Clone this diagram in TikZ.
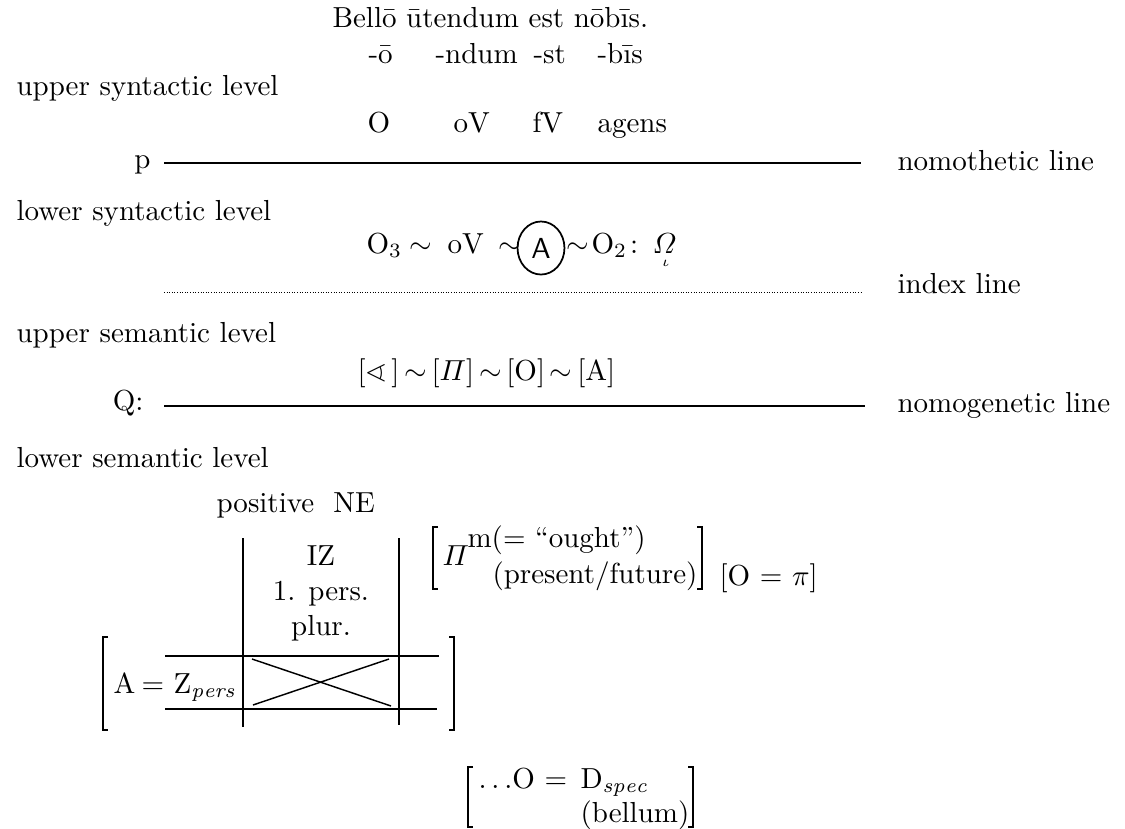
\documentclass[tikz,border=0pt]{standalone}
\usepackage{fontspec}
\usepackage{amsmath,amssymb}
\usetikzlibrary{shapes.geometric,positioning}
\tikzset{
  %% Texte
  txt/.style={inner sep=0pt,anchor=base west,font=\fontsize{10pt}{12pt}\selectfont},
  ctxt/.style={txt,anchor=base},
  rtxt/.style={txt,anchor=base east},
  %% Kreis um A
  circA/.style={ellipse,draw,line width=0.6pt,inner sep=0pt,
                minimum width=16.2pt,minimum height=18.3pt,
                font=\sffamily\fontsize{10pt}{12pt}\selectfont},
  %% Linien
  mainline/.style={line width=0.75pt},
  idxline/.style={line width=0.35pt,dash pattern=on 0.35pt off 0.55pt},
  tabline/.style={line width=0.5pt},
  brk/.style={line width=0.45pt},
}

\begin{document}
\begin{tikzpicture}[x=0.345pt,y=-0.345pt]
    \useasboundingbox (0,0) rectangle (1125,829);

    %% Satz und Endungen
    \node[txt] (sent) at (332,27) {Bellō ūtendum est nōbīs.};
    \node[txt] (endO)   at (368,63) {-ō};
    \node[txt] (endND)  at (435,63) {-ndum};
    \node[txt] (endST)  at (533,63) {-st};
    \node[txt] (endBIS) at (597,63) {-bīs};

    %% obere syntaktische Ebene
    \node[txt] (usl) at (16,95) {upper syntactic level};
    \node[txt] (synO)  at (367,132) {O};
    \node[txt] (synOV) at (453,132) {oV};
    \node[txt] (synFV) at (532,132) {fV};
    \node[txt] (synAG) at (597,132) {agens};

    %% nomothetische Linie
    \node[rtxt] (p) at (151,168) {p};
    \coordinate (nthL) at (164,163);
    \coordinate (nthR) at (861,163);
    \draw[mainline] (nthL) -- (nthR);
    \node[txt] (nth) at (897,170) {nomothetic line};

    %% untere syntaktische Ebene
    \node[txt] (lsl) at (16,220) {lower syntactic level};
    \node[txt] (fO3)  at (366,253) {O$_3$};
    \node[txt] (fS1)  at (409,253) {$\sim$};
    \node[txt] (fOV)  at (447,253) {oV};
    \node[txt] (fS2)  at (498,253) {$\sim$};
    \node[circA] (circ) at (541,248) {A};
    \node[txt] (fS3)  at (566,253) {$\sim$};
    \node[txt] (fO2)  at (591,253) {O$_2$\kern1pt:};
    \node[txt] (fOm)  at (652,253) {$\varOmega\mkern-9mu\lower1.05ex\hbox{$\scriptscriptstyle\iota$}$};

    %% Indexlinie
    \coordinate (idxL) at (164,292);
    \coordinate (idxR) at (861,292);
    \draw[idxline] (idxL) -- (idxR);
    \node[txt] (idx) at (897,293) {index line};

    %% obere semantische Ebene
    \node[txt] (usm) at (16,342) {upper semantic level};
    \node[txt] (semF) at (357,380)
      {[$\sphericalangle$\,]$\,\sim\,$[$\varPi$]$\,\sim\,$[O]$\,\sim\,$[A]};

    %% nomogenetische Linie
    \node[rtxt] (Q) at (144,410) {Q:};
    \coordinate (ngnL) at (164,406);
    \coordinate (ngnR) at (865,406);
    \draw[mainline] (ngnL) -- (ngnR);
    \node[txt] (ngn) at (897,412) {nomogenetic line};

    %% untere semantische Ebene
    \node[txt] (lsm) at (16,467) {lower semantic level};
    \node[txt] (posNE) at (216,512) {positive\ \ NE};

    %% Tabelle IZ
    \coordinate (vL1) at (243,538);  \coordinate (vL2) at (243,727);
    \coordinate (vR1) at (399,538);  \coordinate (vR2) at (399,725);
    \coordinate (hT1) at (165,656);  \coordinate (hT2) at (439,656);
    \coordinate (hB1) at (165,709);  \coordinate (hB2) at (437,709);
    \draw[tabline] (vL1) -- (vL2);
    \draw[tabline] (vR1) -- (vR2);
    \draw[tabline] (hT1) -- (hT2);
    \draw[tabline] (hB1) -- (hB2);
    \coordinate (xA) at (252,659);  \coordinate (xB) at (391,706);
    \coordinate (xC) at (253,705);  \coordinate (xD) at (389,659);
    \draw[tabline] (xA) -- (xB);
    \draw[tabline] (xC) -- (xD);
    \node[ctxt] (IZ)   at (321,565) {IZ};
    \node[ctxt] (pers) at (321,600) {1. pers.};
    \node[ctxt] (plur) at (321,635) {plur.};
    \node[txt]  (zA)   at (113,693) {A};
    \node[txt]  (zEq)  at (141,693) {$=$};
    \node[txt]  (zZ)   at (173,693) {Z$_{\mathit{pers}}$};
    \draw[brk] (108,637) -- (103,637) -- (103,730) -- (108,730);
    \draw[brk] (449,637) -- (454,637) -- (454,730) -- (449,730);

    %% Pi-Klammer
    \draw[brk] (438,527) -- (433,527) -- (433,589) -- (438,589);
    \draw[brk] (697,527) -- (702,527) -- (702,589) -- (697,589);
    \node[txt] (Pi)    at (442,565) {$\varPi$};
    \node[txt] (ought) at (467,547) {m(= “ought”)};
    \node[txt] (pres)  at (492,583) {(present/future)};
    \node[txt] (Opi)   at (719,585) {[O $=$ $\pi$]};

    %% D-Klammer
    \draw[brk] (473,767) -- (468,767) -- (468,827) -- (473,827);
    \draw[brk] (688,767) -- (693,767) -- (693,827) -- (688,827);
    \node[txt] (dots) at (478,788) {$\ldots$O $=$};
    \node[txt] (Dsp)  at (580,788) {D$_{\mathit{spec}}$};
    \node[txt] (bel)  at (580,822) {(bellum)};
\end{tikzpicture}
\end{document}
